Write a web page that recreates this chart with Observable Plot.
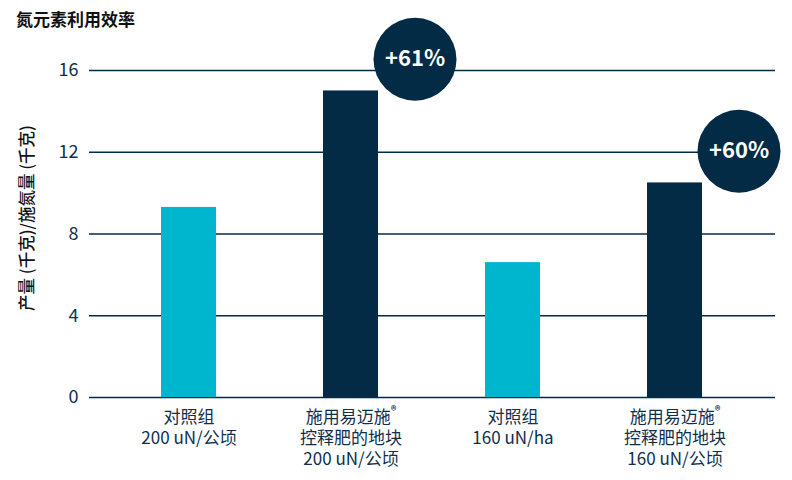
<!DOCTYPE html>
<html>
<head>
<meta charset="utf-8">
<script src="https://cdn.jsdelivr.net/npm/d3@7"></script>
<script src="https://cdn.jsdelivr.net/npm/@observablehq/plot@0.6"></script>
<style>
  html, body { margin: 0; padding: 0; background: #fff; }
  #wrap { position: relative; width: 792px; height: 480px; }
  #title { position: absolute; left: 16px; top: 6px; font-family: "Noto Sans CJK SC", sans-serif; font-weight: 700; font-size: 17px; color: #111; z-index: 2; }
  svg { font-family: "Noto Sans CJK SC", sans-serif; }
</style>
</head>
<body>
<div id="wrap">
  <div id="title">氮元素利用效率</div>
  <div id="chart"></div>
</div>
<script>
const title = "氮元素利用效率";
const yLabel = "产量 (千克)/施氮量 (千克)";
const categories = [
  "对照组\n200 uN/公顷",
  "施用易迈施®\n控释肥的地块\n200 uN/公顷",
  "对照组\n160 uN/ha",
  "施用易迈施®\n控释肥的地块\n160 uN/公顷"
];
const values = [9.3, 15.0, 6.6, 10.5];
const groups = ["control", "treated", "control", "treated"];
const uplifts = ["", "+61%", "", "+60%"];
const yTicks = [0, 4, 8, 12, 16];

const cyan = "#00b5ce";
const navy = "#032b46";

const data = categories.map((c, i) => ({cat: c, value: values[i], group: groups[i], uplift: uplifts[i]}));
const badges = data.filter(d => d.uplift);

const chart = Plot.plot({
  width: 792,
  height: 480,
  marginTop: 70,
  marginBottom: 83,
  marginLeft: 89,
  marginRight: 17,
  style: {fontFamily: "'Noto Sans CJK SC', sans-serif", overflow: "visible"},
  x: {domain: categories, paddingInner: 0.66, paddingOuter: 0.444, label: null},
  y: {domain: [0, 16], label: null},
  color: {domain: ["control", "treated"], range: [cyan, navy]},
  marks: [
    Plot.ruleY(yTicks, {stroke: navy, strokeWidth: 1.5}),
    Plot.barY(data, {x: "cat", y: "value", fill: "group"}),
    Plot.dot(badges, {x: "cat", y: d => d.value + 1.55, r: 41.5, fill: navy, stroke: "none", dx: 64}),
    Plot.text(badges, {x: "cat", y: d => d.value + 1.55, text: "uplift", dx: 64, fill: "#fff", fontSize: 22, fontWeight: 700}),
    Plot.axisY({ticks: yTicks, tickSize: 0, tickPadding: 11, fontSize: 18, fill: "#0f2f4c", label: null}),
    Plot.axisX({tickSize: 0, tickPadding: 10, fontSize: 17, lineHeight: 1.25, fill: "#0f2f4c", label: null}),
    Plot.text([yLabel], {frameAnchor: "left", textAnchor: "middle", rotate: -90, dx: -62, dy: -16, fontSize: 16.5, fontWeight: 500, fill: "#111"})
  ]
});
document.getElementById("chart").appendChild(chart);

// superscript registered mark
chart.querySelectorAll("tspan, text").forEach(el => {
  if (el.childElementCount === 0 && el.textContent.includes("®")) {
    const parts = el.textContent.split("®");
    el.textContent = parts[0];
    const sup = document.createElementNS("http://www.w3.org/2000/svg", "tspan");
    sup.setAttribute("font-size", "0.65em");
    sup.setAttribute("baseline-shift", "super");
    sup.setAttribute("font-weight", "700");
    sup.textContent = "®";
    el.appendChild(sup);
    if (parts[1]) el.appendChild(document.createTextNode(parts[1]));
  }
});
</script>
</body>
</html>
